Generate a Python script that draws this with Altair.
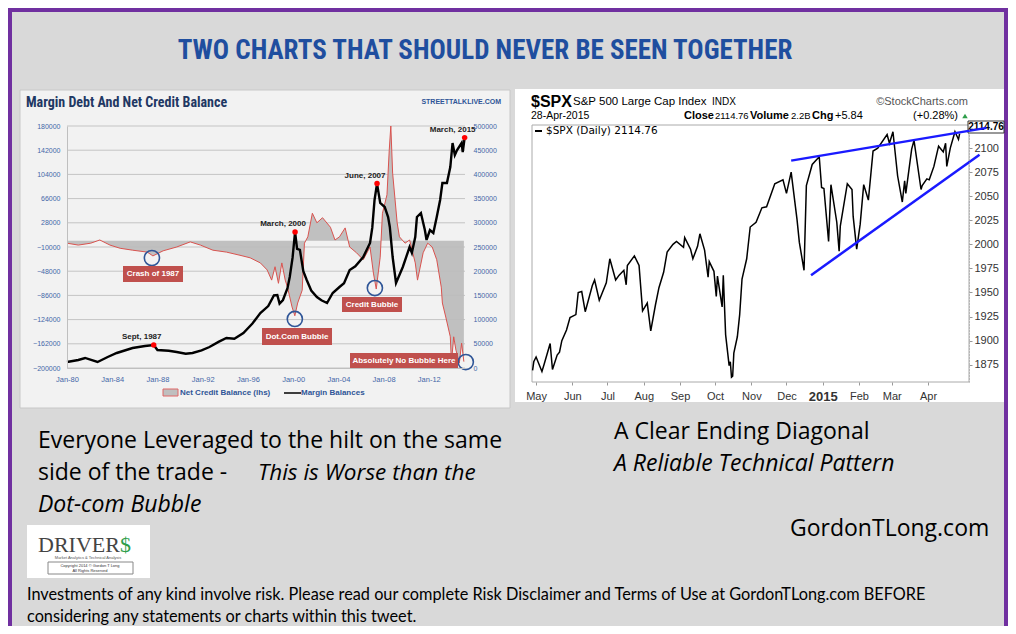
import altair as alt
import pandas as pd

W, H = 1000, 618

# ---------------- left chart data ----------------
NET_CREDIT = [
    (1980.0, -4000), (1981.0, -7000), (1982.1, -4000), (1982.9, 1000), (1983.8, -7000),
    (1984.7, -12000), (1985.8, -15000), (1987.1, -18000), (1987.6, -24000), (1988.5, -16000),
    (1989.7, -10000), (1990.9, -2000), (1991.8, -7000), (1992.9, -15000), (1994.1, -18000),
    (1995.3, -23000), (1996.2, -27000), (1997.1, -35000), (1997.7, -46000), (1998.1, -62000),
    (1998.4, -41000), (1998.7, -67000), (1999.0, -35000), (1999.3, -62000), (1999.5, -73000),
    (1999.9, -104000), (2000.15, -118000), (2000.4, -98000), (2000.8, -78000), (2001.0, -4000),
    (2001.3, 6000), (2001.7, 43000), (2002.1, 28000), (2002.6, 36000), (2003.3, 21000),
    (2003.7, 1000), (2004.1, 6000), (2004.6, 20000), (2005.0, -10000), (2005.6, -19000),
    (2006.2, -30000), (2006.8, -10000), (2007.1, -51000), (2007.35, -76000), (2007.7, -26000),
    (2007.9, 43000), (2008.3, 72000), (2008.5, 142000), (2008.64, 180000), (2008.8, 106000),
    (2009.2, 28000), (2009.4, 6000), (2009.9, -4000), (2010.3, 1000), (2010.8, -35000),
    (2011.0, -62000), (2011.5, -19000), (2011.9, -4000), (2012.3, -10000), (2012.7, -30000),
    (2013.1, -73000), (2013.2, -98000), (2013.5, -120000), (2013.9, -151000), (2014.0, -192000),
    (2014.2, -151000), (2014.4, -172000), (2014.7, -192000), (2014.9, -161000), (2015.1, -190000),
]
MARGIN = [
    (1980.0, 12400), (1981.0, 16500), (1981.6, 20700), (1982.7, 12400), (1983.6, 22700),
    (1984.4, 31000), (1985.8, 41300), (1986.9, 45500), (1987.67, 47500), (1988.0, 37200),
    (1989.0, 35500), (1989.7, 33100), (1990.5, 29500), (1991.1, 31000), (1991.9, 36500),
    (1992.6, 43400), (1993.4, 54000), (1994.1, 62000), (1994.8, 60500), (1995.6, 72300),
    (1996.4, 92000), (1997.1, 113600), (1997.8, 128000), (1998.3, 150000), (1998.6, 150800),
    (1998.8, 133000), (1999.1, 140500), (1999.5, 165000), (1999.7, 188000), (1999.95, 228000),
    (2000.17, 281000), (2000.35, 246000), (2000.6, 243800), (2000.9, 200000), (2001.2, 181800),
    (2001.6, 160000), (2002.1, 146700), (2002.5, 140000), (2003.0, 134300), (2003.5, 155000),
    (2004.1, 167400), (2004.5, 175000), (2005.0, 202500), (2005.5, 210000), (2006.2, 229300),
    (2006.8, 258300), (2007.0, 290000), (2007.2, 347100), (2007.42, 381000), (2007.7, 340900),
    (2008.1, 332600), (2008.4, 312000), (2008.55, 291300), (2008.8, 229300), (2009.1, 175600),
    (2009.7, 208700), (2010.3, 250000), (2010.5, 238000), (2010.8, 270700), (2010.95, 312000),
    (2011.3, 320200), (2011.65, 285100), (2011.8, 264500), (2012.1, 285100), (2012.4, 278900),
    (2012.7, 312000), (2013.0, 347100), (2013.2, 382200), (2013.6, 382200), (2013.9, 415300),
    (2014.1, 464900), (2014.3, 440000), (2014.5, 450400), (2014.9, 464900), (2015.0, 446300),
    (2015.17, 476000),
]
PEAK_LABELS = ["Sept, 1987", "March, 2000", "June, 2007", "March, 2015"]
PEAK_YEARS = [1987.67, 2000.17, 2007.42, 2015.17]
PEAK_VALUES = [47500, 281000, 381000, 476000]
CIRCLE_YEARS = [1987.51, 2000.15, 2007.23, 2015.27]
CIRCLE_VALUES = [-27300, -123000, -74400, -190600]
BOX_LABELS = ["Crash of 1987", "Dot.Com Bubble", "Credit Bubble", "Absolutely No Bubble Here"]
LHS_TICKS = [180000, 142000, 104000, 66000, 28000, -10000, -48000, -86000, -124000, -162000, -200000]
RHS_TICKS = [500000, 450000, 400000, 350000, 300000, 250000, 200000, 150000, 100000, 50000, 0]
LEFT_X_TICKS = [1980, 1984, 1988, 1992, 1996, 2000, 2004, 2008, 2012]

# ---------------- right chart data ----------------
SPX = [
    ("2014-04-28", 1869), ("2014-04-29", 1878), ("2014-05-01", 1883), ("2014-05-06", 1868),
    ("2014-05-08", 1876), ("2014-05-13", 1897), ("2014-05-15", 1870), ("2014-05-19", 1885),
    ("2014-05-21", 1888), ("2014-05-23", 1900), ("2014-05-27", 1911), ("2014-05-30", 1924),
    ("2014-06-04", 1927), ("2014-06-06", 1950), ("2014-06-09", 1951), ("2014-06-12", 1930),
    ("2014-06-18", 1957), ("2014-06-20", 1963), ("2014-06-24", 1942), ("2014-06-30", 1960),
    ("2014-07-03", 1985), ("2014-07-08", 1963), ("2014-07-11", 1968), ("2014-07-15", 1973),
    ("2014-07-17", 1958), ("2014-07-18", 1978), ("2014-07-24", 1988), ("2014-07-28", 1978),
    ("2014-07-31", 1931), ("2014-08-04", 1939), ("2014-08-07", 1910), ("2014-08-11", 1937),
    ("2014-08-14", 1955), ("2014-08-18", 1971), ("2014-08-21", 1992), ("2014-08-26", 2000),
    ("2014-08-29", 2003), ("2014-09-04", 1997), ("2014-09-05", 2007), ("2014-09-10", 1995),
    ("2014-09-12", 1985), ("2014-09-16", 1998), ("2014-09-18", 2011), ("2014-09-22", 1994),
    ("2014-09-25", 1966), ("2014-09-26", 1982), ("2014-09-30", 1972), ("2014-10-02", 1946),
    ("2014-10-03", 1967), ("2014-10-07", 1935), ("2014-10-08", 1968), ("2014-10-10", 1906),
    ("2014-10-13", 1874), ("2014-10-14", 1878), ("2014-10-15", 1862), ("2014-10-16", 1863),
    ("2014-10-17", 1887), ("2014-10-20", 1904), ("2014-10-22", 1927), ("2014-10-24", 1964),
    ("2014-10-28", 1985), ("2014-10-31", 2018), ("2014-11-05", 2023), ("2014-11-10", 2038),
    ("2014-11-14", 2039), ("2014-11-21", 2063), ("2014-11-28", 2067), ("2014-12-01", 2053),
    ("2014-12-05", 2075), ("2014-12-10", 2026), ("2014-12-12", 2002), ("2014-12-16", 1973),
    ("2014-12-18", 2061), ("2014-12-23", 2083), ("2014-12-29", 2091), ("2014-12-31", 2059),
    ("2015-01-02", 2058), ("2015-01-06", 2003), ("2015-01-08", 2062), ("2015-01-13", 2023),
    ("2015-01-15", 1993), ("2015-01-16", 2019), ("2015-01-22", 2063), ("2015-01-26", 2057),
    ("2015-01-27", 2029), ("2015-01-30", 1995), ("2015-02-02", 2021), ("2015-02-05", 2062),
    ("2015-02-09", 2046), ("2015-02-13", 2097), ("2015-02-17", 2100), ("2015-02-25", 2114),
    ("2015-02-27", 2105), ("2015-03-02", 2117), ("2015-03-06", 2071), ("2015-03-10", 2044),
    ("2015-03-12", 2066), ("2015-03-13", 2053), ("2015-03-18", 2099), ("2015-03-20", 2108),
    ("2015-03-26", 2057), ("2015-03-27", 2061), ("2015-03-31", 2068), ("2015-04-02", 2067),
    ("2015-04-06", 2081), ("2015-04-10", 2102), ("2015-04-14", 2096), ("2015-04-16", 2105),
    ("2015-04-17", 2081), ("2015-04-20", 2100), ("2015-04-24", 2117), ("2015-04-27", 2109),
    ("2015-04-28", 2115),
]
TREND_UPPER = [("2014-12-05", 2087), ("2015-05-21", 2121)]
TREND_LOWER = [("2014-12-22", 1968), ("2015-05-15", 2093)]
SPX_TICKS = [1875, 1900, 1925, 1950, 1975, 2000, 2025, 2050, 2075, 2100]
SPX_MONTHS = [(2014, 5), (2014, 6), (2014, 7), (2014, 8), (2014, 9), (2014, 10), (2014, 11),
              (2014, 12), (2015, 1), (2015, 2), (2015, 3), (2015, 4)]

# ---------------- fonts / colours ----------------
NARROW = "'Liberation Sans Narrow', 'Arial Narrow', 'Roboto Condensed', 'Liberation Sans', sans-serif"
SANS = "'Open Sans', 'Noto Sans', sans-serif"
LATO = "Lato, 'Open Sans', sans-serif"
ARIAL = "'Liberation Sans', Arial, sans-serif"
SERIF = "'Liberation Serif', 'DejaVu Serif', serif"
AXBLUE = "#4467a8"

# ---------------- scales ----------------
XL = alt.Scale(domain=[1980, 2015.2], range=[59, 457], nice=False, zero=False)
YL = alt.Scale(domain=[-200000, 180000], range=[360, 118], nice=False, zero=False)
YR = alt.Scale(domain=[0, 500000], range=[360, 118], nice=False, zero=False)
XS = alt.Scale(type="utc", domain=[alt.DateTime(year=2014, month=4, date=27, hours=12, utc=True),
                                   alt.DateTime(year=2015, month=5, date=6, utc=True)],
               range=[524, 961], nice=False)
YS = alt.Scale(domain=[1857, 2124], range=[374, 117], nice=False, zero=False)

ONE = pd.DataFrame({"a": [0]})


def txt(s, x, y, size, color="black", font=SANS, weight="normal", style="normal",
        align="left", baseline="middle"):
    return alt.Chart(pd.DataFrame({"t": [s]})).mark_text(
        align=align, baseline=baseline, fontSize=size, font=font, fontWeight=weight,
        fontStyle=style, color=color).encode(x=alt.value(x), y=alt.value(y), text="t:N")


def box(x1, y1, x2, y2, fill, stroke=None, sw=0):
    kw = dict(fill=fill)
    if stroke:
        kw.update(stroke=stroke, strokeWidth=sw)
    else:
        kw.update(strokeWidth=0)
    return alt.Chart(ONE).mark_rect(**kw).encode(
        x=alt.value(x1), x2=alt.value(x2), y=alt.value(y1), y2=alt.value(y2))


layers = []
# slide background & border
layers.append(box(0, 0, W, H, "#d9d9d9"))
layers.append(alt.Chart(ONE).mark_rect(fill=None, stroke="#7030a0", strokeWidth=4).encode(
    x=alt.value(2), x2=alt.value(W - 2), y=alt.value(2), y2=alt.value(H + 20)))
layers.append(txt("TWO CHARTS THAT SHOULD NEVER BE SEEN TOGETHER", 477, 43, 27,
                  color="#1f4e9f", font=NARROW, weight="bold", align="center"))

# ---------- left panel ----------
layers.append(box(12, 82, 502, 400, "#f2f2f2", "#c8c8c8", 1))
layers.append(txt("Margin Debt And Net Credit Balance", 18, 95, 14, color="#1f3864",
                  font=NARROW, weight="bold"))
layers.append(txt("STREETTALKLIVE.COM", 493, 94, 7, color="#2f5597", font=ARIAL,
                  weight="bold", align="right"))

grid_df = pd.DataFrame({"t": LHS_TICKS})
layers.append(alt.Chart(grid_df).mark_rule(color="#c4c4c4", strokeWidth=1).encode(
    y=alt.Y("t:Q", scale=YL, axis=None), x=alt.value(59), x2=alt.value(457)))

nc_df = pd.DataFrame(NET_CREDIT, columns=["year", "value"])
layers.append(alt.Chart(nc_df).mark_area(color="#bdbdbd", opacity=0.95).encode(
    x=alt.X("year:Q", scale=XL, axis=alt.Axis(
        orient="bottom", offset=360 - H, values=LEFT_X_TICKS, title=None,
        labelExpr="'Jan-' + slice(toString(datum.value), 2)", ticks=False,
        domainColor="#bfbfbf", labelFontSize=7.5, labelColor=AXBLUE, labelFont=ARIAL,
        labelPadding=7, labelFlush=False, labelOverlap=False, zindex=1)),
    y=alt.Y("value:Q", scale=YL, axis=alt.Axis(
        orient="left", offset=-59, values=LHS_TICKS, title=None, ticks=False, format="d",
        domainColor="#bfbfbf", labelFontSize=7, labelColor=AXBLUE, labelFont=ARIAL,
        labelPadding=7, labelOverlap=False, labelFlush=False, zindex=1)),
    y2=alt.datum(0)))
layers.append(alt.Chart(nc_df).mark_line(color="#d9534f", strokeWidth=1).encode(
    x=alt.X("year:Q", scale=XL, axis=None), y=alt.Y("value:Q", scale=YL, axis=None)))

mb_df = pd.DataFrame(MARGIN, columns=["year", "value"])
layers.append(alt.Chart(mb_df).mark_line(color="black", strokeWidth=2.4).encode(
    x=alt.X("year:Q", scale=XL, axis=None),
    y=alt.Y("value:Q", scale=YR, axis=alt.Axis(
        orient="right", offset=457 - W, values=RHS_TICKS, title=None, ticks=False, format="d",
        domain=False, labelFontSize=7, labelColor=AXBLUE, labelFont=ARIAL,
        labelPadding=8, labelOverlap=False, labelFlush=False, zindex=1))))

pk_df = pd.DataFrame({"label": PEAK_LABELS, "year": PEAK_YEARS, "value": PEAK_VALUES})
layers.append(alt.Chart(pk_df).mark_point(shape="circle", filled=True, color="red",
                                          size=30, opacity=1).encode(
    x=alt.X("year:Q", scale=XL, axis=None), y=alt.Y("value:Q", scale=YR, axis=None)))
layers.append(alt.Chart(pk_df).mark_text(fontSize=8, font=ARIAL, fontWeight="bold",
                                         color="#222", dy=-8, dx=-12).encode(
    x=alt.X("year:Q", scale=XL, axis=None), y=alt.Y("value:Q", scale=YR, axis=None),
    text="label:N"))

ci_df = pd.DataFrame({"year": CIRCLE_YEARS, "value": CIRCLE_VALUES})
layers.append(alt.Chart(ci_df).mark_point(shape="circle", filled=False, color="#2f5597",
                                          strokeWidth=1.6, size=230, opacity=1).encode(
    x=alt.X("year:Q", scale=XL, axis=None), y=alt.Y("value:Q", scale=YL, axis=None)))

# red annotation boxes
for (lab, x1, y1, x2, y2) in zip(BOX_LABELS, [115, 254, 334, 342], [258, 320, 289, 345],
                                 [175, 324, 394, 450], [274, 337, 304, 361]):
    layers.append(box(x1, y1, x2, y2, "#c0504d"))
    layers.append(txt(lab, (x1 + x2) / 2, (y1 + y2) / 2, 8, color="white", font=ARIAL,
                      weight="bold", align="center"))

# left legend
layers.append(box(155, 381, 170, 388, "#bfbfbf", "#e06666", 1))
layers.append(txt("Net Credit Balance (lhs)", 172, 385, 8, color="#2f5597", font=ARIAL,
                  weight="bold"))
layers.append(alt.Chart(ONE).mark_rule(color="black", strokeWidth=1.5).encode(
    x=alt.value(276), x2=alt.value(293), y=alt.value(385)))
layers.append(txt("Margin Balances", 293, 385, 8, color="#2f5597", font=ARIAL, weight="bold"))

# ---------- right panel ----------
layers.append(box(507, 81, 996, 394, "white"))
layers.append(txt("$SPX", 523, 94, 16, font=ARIAL, weight="bold"))
layers.append(txt("S&P 500 Large Cap Index", 565, 94, 11.5, font=ARIAL))
layers.append(txt("INDX", 704, 94, 10, font=ARIAL))
layers.append(txt("\u00a9StockCharts.com", 960, 94, 11, color="#555", font=ARIAL, align="right"))
layers.append(txt("28-Apr-2015", 523, 108, 10.5, font=ARIAL))
layers.append(txt("Close", 676, 108, 11, font=ARIAL, weight="bold"))
layers.append(txt("2114.76", 707, 108, 9.5, font=ARIAL))
layers.append(txt("Volume", 742, 108, 11, font=ARIAL, weight="bold"))
layers.append(txt("2.2B", 783, 108, 9.5, font=ARIAL))
layers.append(txt("Chg", 804, 108, 11, font=ARIAL, weight="bold"))
layers.append(txt("+5.84", 827, 108, 11, font=ARIAL))
layers.append(txt("(+0.28%)", 950, 108, 11, font=ARIAL, align="right"))
layers.append(alt.Chart(ONE).mark_point(shape="triangle-up", filled=True, color="#2e9e4a",
                                        size=30, opacity=1).encode(
    x=alt.value(957), y=alt.value(108)))
layers.append(box(524, 117, 961, 374, "white", "#aaaaaa", 1))
layers.append(alt.Chart(ONE).mark_rule(color="black", strokeWidth=2).encode(
    x=alt.value(527), x2=alt.value(534), y=alt.value(123)))
layers.append(txt("$SPX (Daily) 2114.76", 538, 123, 10.5, font="'DejaVu Sans', sans-serif"))

spx_df = pd.DataFrame(SPX, columns=["date", "close"])
month_vals = [alt.DateTime(year=y, month=m, date=1, utc=True) for (y, m) in SPX_MONTHS]
layers.append(alt.Chart(spx_df).mark_line(color="black", strokeWidth=1.5).encode(
    x=alt.X("date:T", scale=XS, axis=alt.Axis(
        orient="bottom", offset=374 - H, values=month_vals, title=None,
        labelExpr="utcmonth(datum.value) == 0 ? '2015' : utcFormat(datum.value, '%b')",
        labelFontWeight={"condition": {"test": "utcmonth(datum.value) == 0", "value": "bold"},
                         "value": "normal"},
        labelFontSize={"condition": {"test": "utcmonth(datum.value) == 0", "value": 13},
                       "value": 11},
        labelColor="#333", labelFont=ARIAL, domain=False, tickColor="#999", tickSize=3,
        labelPadding=5, labelFlush=False, labelOverlap=False, zindex=1)),
    y=alt.Y("close:Q", scale=YS, axis=alt.Axis(
        orient="right", offset=961 - W, values=SPX_TICKS, title=None, domainColor="#999",
        domainDash=[1, 2], tickColor="#999", tickSize=3, labelColor="#333", labelFont=ARIAL,
        format="d", labelFontSize=11, labelPadding=2, labelOverlap=False, labelFlush=False,
        zindex=1))))

# price tag
layers.append(box(960, 113, 996, 125, "white", "#333", 1))
layers.append(txt("2114.76", 978, 119, 10, font=ARIAL, weight="bold", align="center"))

tr_df = pd.DataFrame([("upper",) + p for p in TREND_UPPER] + [("lower",) + p for p in TREND_LOWER],
                     columns=["seg", "date", "close"])
layers.append(alt.Chart(tr_df).mark_line(color="#1a1aff", strokeWidth=2.5).encode(
    x=alt.X("date:T", scale=XS, axis=None), y=alt.Y("close:Q", scale=YS, axis=None),
    detail="seg:N"))

# ---------- bottom texts ----------
layers.append(txt("Everyone Leveraged to the hilt on the same", 30, 433, 23))
layers.append(txt("side of the trade - ", 30, 465, 23))
layers.append(txt("This is Worse than the", 250, 465, 22.5, style="italic"))
layers.append(txt("Dot-com Bubble", 30, 497, 23, style="italic"))
layers.append(txt("A Clear Ending Diagonal", 606, 424, 23))
layers.append(txt("A Reliable Technical Pattern", 606, 456, 23, style="italic"))
layers.append(txt("GordonTLong.com", 782, 521, 23))

# logo
layers.append(box(19, 517, 142, 570, "white"))
layers.append(txt("DRIVER", 30, 537, 22, color="#444", font=SERIF))
layers.append(txt("$", 112, 537, 22, color="#2e9e4a", font=SERIF))
layers.append(txt("Market Analytics & Technical Analysis", 80, 550, 4, color="#555",
                  font=ARIAL, align="center"))
layers.append(box(40, 554, 125, 566, "white", "#888", 1))
layers.append(txt("Copyright 2014 \u00a9 Gordon T Long", 82, 558, 4, color="#333", font=ARIAL,
                  align="center"))
layers.append(txt("All Rights Reserved", 82, 563, 4, color="#333", font=ARIAL, align="center"))

layers.append(txt("Investments of any kind involve  risk. Please read our complete  Risk Disclaimer "
                  " and Terms of Use at GordonTLong.com  BEFORE", 19, 587, 16.3, font=LATO))
layers.append(txt("considering any statements or charts within this tweet.", 19, 609, 16.3,
                  font=LATO))

chart = alt.layer(*layers).resolve_scale(x="independent", y="independent").properties(
    width=W, height=H, autosize=alt.AutoSizeParams(type="none"), padding=0,
    background="white").configure_view(stroke=None).configure_axis(grid=False)

chart.save("out.html", embed_options={"renderer": "svg", "actions": False})
